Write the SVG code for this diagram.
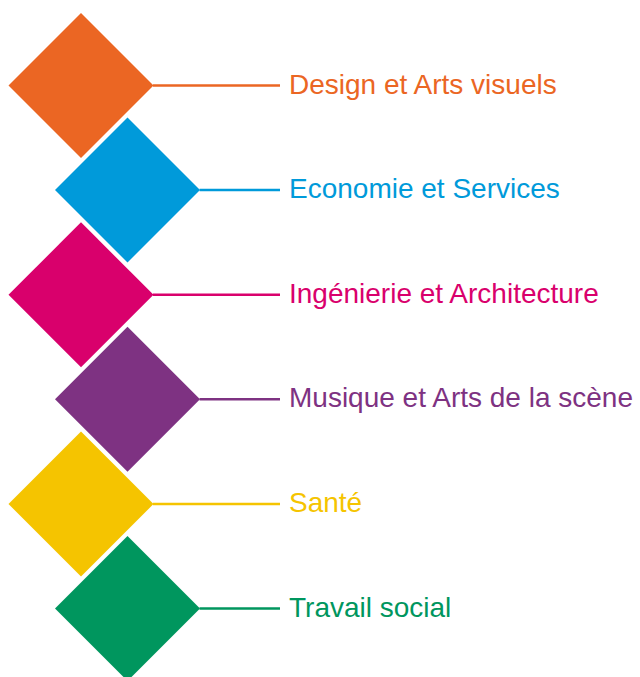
<svg xmlns="http://www.w3.org/2000/svg" width="640" height="677" viewBox="0 0 640 677">
<style>
text{font-family:"Liberation Sans",Arial,sans-serif;font-size:28px}
.c{stroke-width:2.5;fill:none}
</style>
<defs>
<polygon id="dia" points="0,-72.5 72.5,0 0,72.5 -72.5,0"/>
</defs>
<rect width="640" height="677" fill="#fff"/>
<g id="connectors">
<line class="c" x1="153" y1="85.5" x2="280" y2="85.5" stroke="#EB6623"/>
<line class="c" x1="199.5" y1="190" x2="280" y2="190" stroke="#009ADA"/>
<line class="c" x1="153" y1="294.8" x2="280" y2="294.8" stroke="#D9006C"/>
<line class="c" x1="199.5" y1="399.3" x2="280" y2="399.3" stroke="#7E3282"/>
<line class="c" x1="153" y1="504" x2="280" y2="504" stroke="#F5C400"/>
<line class="c" x1="199.5" y1="608.5" x2="280" y2="608.5" stroke="#00965E"/>
</g>
<g id="n1"><use href="#dia" x="81" y="85.5" fill="#EB6623"/><text x="289" y="93.5" fill="#EB6623">Design et Arts visuels</text></g>
<g id="n2"><use href="#dia" x="127.5" y="190" fill="#009ADA"/><text x="289" y="198" fill="#009ADA">Economie et Services</text></g>
<g id="n3"><use href="#dia" x="81" y="294.8" fill="#D9006C"/><text x="289" y="302.8" fill="#D9006C">Ingénierie et Architecture</text></g>
<g id="n4"><use href="#dia" x="127.5" y="399.3" fill="#7E3282"/><text x="289" y="407.3" fill="#7E3282">Musique et Arts de la scène</text></g>
<g id="n5"><use href="#dia" x="81" y="504" fill="#F5C400"/><text x="289" y="512" fill="#F5C400">Santé</text></g>
<g id="n6"><use href="#dia" x="127.5" y="608.5" fill="#00965E"/><text x="289" y="616.5" fill="#00965E">Travail social</text></g>
</svg>
